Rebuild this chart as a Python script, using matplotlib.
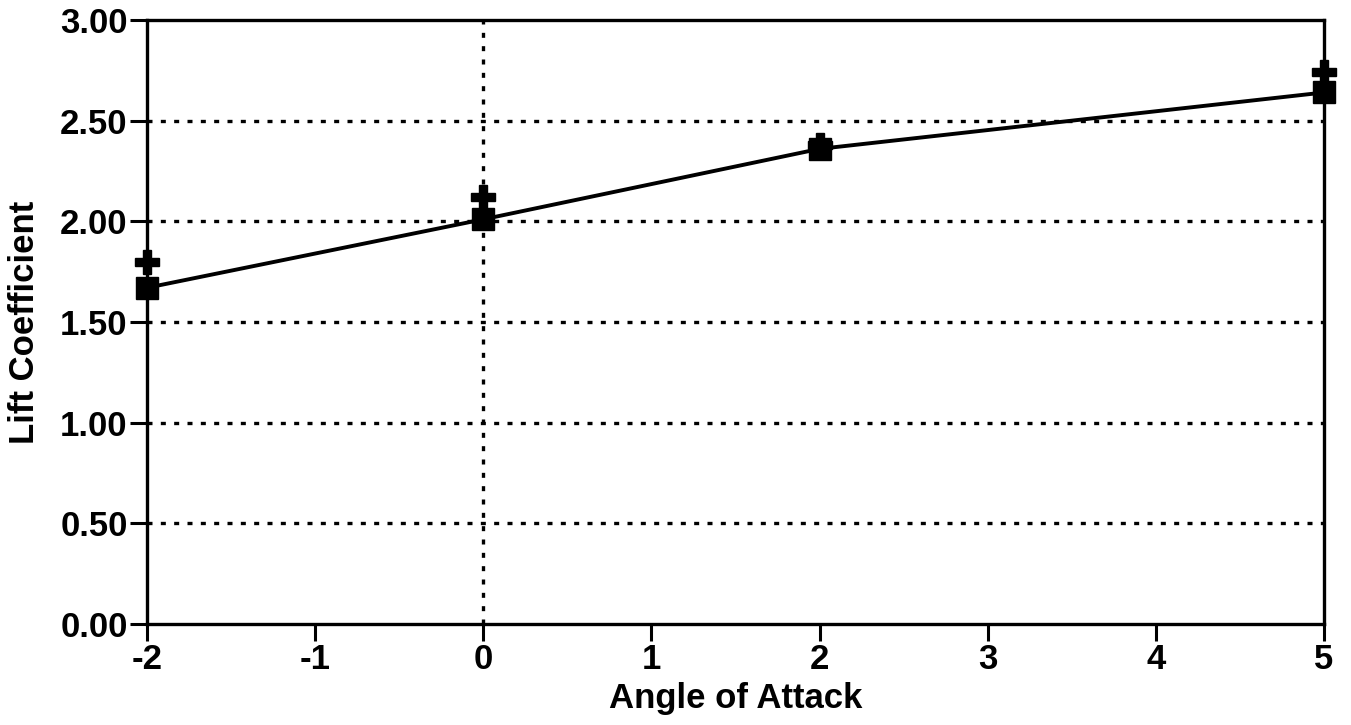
import matplotlib
matplotlib.use("Agg")
import matplotlib.pyplot as plt

angle = [-2, 0, 2, 5]
lift_square = [1.67, 2.01, 2.36, 2.64]
lift_plus = [1.80, 2.12, 2.38, 2.74]
xticks = [-2, -1, 0, 1, 2, 3, 4, 5]
yticks = [0.0, 0.5, 1.0, 1.5, 2.0, 2.5, 3.0]
ytick_labels = ["0.00", "0.50", "1.00", "1.50", "2.00", "2.50", "3.00"]

plt.rcParams['font.family'] = ['Liberation Sans', 'DejaVu Sans']

fig = plt.figure(figsize=(13.51, 7.25), dpi=100)
ax = fig.add_axes([147/1351, 1 - 624/725, (1324-147)/1351, (624-20)/725])

for y in yticks[1:-1]:
    ax.axhline(y, color='black', linestyle=(0, (1.5, 2.5)), linewidth=2.4, zorder=1)
ax.axvline(0, color='black', linestyle=(0, (1.5, 2.5)), linewidth=2.4, zorder=1)

ax.plot(angle, lift_square, color='black', linewidth=2.8, marker='s', markersize=16,
        zorder=3, clip_on=False)
ax.plot(angle, lift_plus, color='black', linestyle='none', marker='P', markersize=17,
        zorder=3, clip_on=False)

ax.set_xlim(-2, 5)
ax.set_ylim(0, 3)
ax.set_xticks(xticks)
ax.set_xticklabels([str(v) for v in xticks])
ax.set_yticks(yticks)
ax.set_yticklabels(ytick_labels)
ax.tick_params(axis='both', labelsize=25, width=2.2, length=12, color='black', pad=2)
for lbl in ax.get_xticklabels() + ax.get_yticklabels():
    lbl.set_fontweight('bold')
for s in ax.spines.values():
    s.set_linewidth(2.4)

ax.set_xlabel("Angle of Attack", fontsize=25, fontweight='bold', labelpad=4)
ax.set_ylabel("Lift Coefficient", fontsize=25, fontweight='bold', labelpad=14)

fig.savefig("out.png", dpi=100)
